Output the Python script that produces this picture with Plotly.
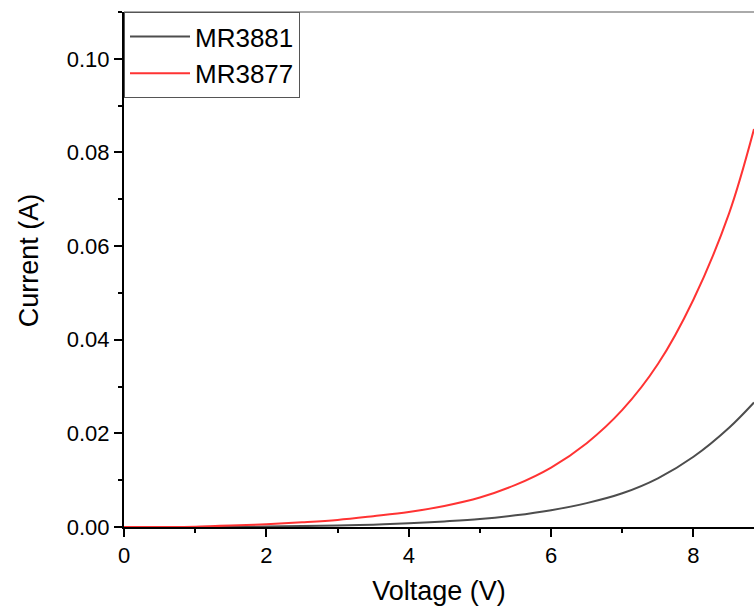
import plotly.graph_objects as go

voltage = [0, 0.5, 1, 1.5, 2, 2.5, 3, 3.5, 4, 4.5, 5, 5.5, 6, 6.5, 7, 7.5, 8, 8.5, 8.85]
current_mr3881 = [0, 0.0, 0.00002, 0.00005, 0.0001, 0.0002, 0.0003, 0.0005, 0.0008, 0.0012,
                  0.0017, 0.0025, 0.0036, 0.0051, 0.0072, 0.0104, 0.0150, 0.0212, 0.0266]
current_mr3877 = [0, 0.00002, 0.00008, 0.0003, 0.0006, 0.0010, 0.0015, 0.0023, 0.0032, 0.0045,
                  0.0063, 0.0090, 0.0127, 0.0179, 0.0250, 0.0348, 0.0486, 0.0670, 0.0850]

x_ticks = [0, 2, 4, 6, 8]
y_ticks = [0.00, 0.02, 0.04, 0.06, 0.08, 0.10]
y_tick_labels = ["0.00", "0.02", "0.04", "0.06", "0.08", "0.10"]

font_family = "Liberation Sans, Arial, sans-serif"

fig = go.Figure()
fig.add_trace(go.Scatter(x=voltage, y=current_mr3881, mode="lines", name="MR3881",
                         line=dict(color="#4d4d4d", width=2, shape="spline", smoothing=1.0)))
fig.add_trace(go.Scatter(x=voltage, y=current_mr3877, mode="lines", name="MR3877",
                         line=dict(color="#ff3333", width=2, shape="spline", smoothing=1.0)))

fig.update_layout(
    width=754, height=609,
    margin=dict(l=124, r=0, t=12, b=82),
    paper_bgcolor="white", plot_bgcolor="white",
    font=dict(family=font_family, color="black"),
    showlegend=True,
    legend=dict(x=0, y=1, xanchor="left", yanchor="top",
                bordercolor="#555555", borderwidth=1, bgcolor="white",
                font=dict(size=26, family=font_family),
                tracegroupgap=0, itemwidth=60),
)

fig.update_xaxes(
    range=[0, 8.85], tickvals=x_ticks, ticktext=[str(v) for v in x_ticks],
    showgrid=False, zeroline=False, showline=True, linecolor="black", linewidth=2,
    ticks="outside", ticklen=8, tickwidth=2, tickcolor="black",
    tickfont=dict(size=22),
    minor=dict(dtick=1, tick0=0, ticks="outside", ticklen=4, tickwidth=2, tickcolor="black"),
    title=dict(text="Voltage (V)", font=dict(size=27), standoff=14),
)
fig.update_yaxes(
    range=[0, 0.11], tickvals=y_ticks, ticktext=y_tick_labels,
    showgrid=False, zeroline=False, showline=True, linecolor="black", linewidth=2,
    ticks="outside", ticklen=8, tickwidth=2, tickcolor="black",
    tickfont=dict(size=22),
    minor=dict(dtick=0.01, tick0=0, ticks="outside", ticklen=4, tickwidth=2, tickcolor="black"),
)

fig.add_annotation(text="Current (A)", xref="paper", yref="paper", x=0, y=0.518,
                   xanchor="center", yanchor="middle", xshift=-95, textangle=-90,
                   showarrow=False, font=dict(size=27, family=font_family, color="black"))

fig.add_shape(type="line", xref="paper", yref="paper", x0=0, x1=1, y0=1, y1=1,
              line=dict(color="#aaaaaa", width=2))

fig.write_html("out.html", config={"displayModeBar": False},
               post_script="document.body.style.margin='0';document.body.style.overflow='hidden';")
